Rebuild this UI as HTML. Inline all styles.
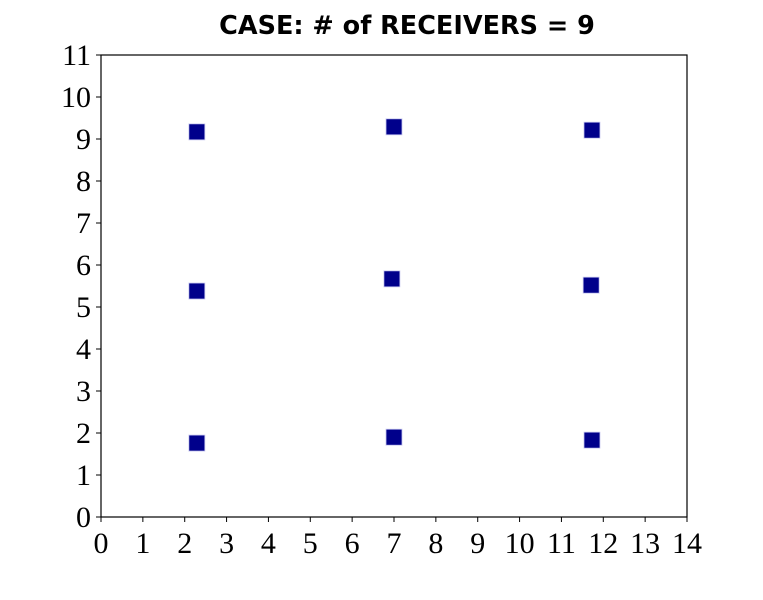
<!DOCTYPE html>
<html><head><meta charset="utf-8"><style>body{margin:0;background:#fff}svg{display:block}</style></head><body>
<svg id="chart" width="763" height="600" xmlns="http://www.w3.org/2000/svg">
<text x="407" y="34" text-anchor="middle" font-family="DejaVu Sans, Liberation Sans, sans-serif" font-weight="bold" font-size="25.5">CASE: # of RECEIVERS = 9</text>
<g id="ax"></g>
</svg>
<script>
const xVals=[2.29,7.0,11.73,2.29,6.95,11.71,2.29,7.0,11.73];
const yVals=[9.17,9.29,9.21,5.38,5.67,5.52,1.76,1.90,1.83];
const xTicks=[0,1,2,3,4,5,6,7,8,9,10,11,12,13,14];
const yTicks=[0,1,2,3,4,5,6,7,8,9,10,11];
const L=101,R=687,T=55,B=517,xMax=14,yMax=11;
const sx=v=>L+(R-L)*v/xMax, sy=v=>B-(B-T)*v/yMax;
const ns="http://www.w3.org/2000/svg",g=document.getElementById('ax');
function mk(t,a){const e=document.createElementNS(ns,t);for(const k in a)e.setAttribute(k,a[k]);g.appendChild(e);return e;}
xTicks.forEach(t=>{
 const l=mk('line',{x1:sx(t),x2:sx(t),y1:B,y2:B+5,stroke:'#000','stroke-width':1});
 
 
 const s=mk('text',{x:sx(t),y:B+36,'text-anchor':'middle','font-family':'Liberation Serif, serif','font-size':30});
 s.textContent=t;
 
 
});
yTicks.forEach(t=>{
 const l=mk('line',{x1:L-5,x2:L,y1:sy(t),y2:sy(t),stroke:'#000','stroke-width':1});
 
 
 const s=mk('text',{x:L-10,y:sy(t)+10,'text-anchor':'end','font-family':'Liberation Serif, serif','font-size':30});
 s.textContent=t;
 
 
});
const f=mk('rect',{x:L,y:T,width:R-L,height:B-T,fill:'none',stroke:'#000','stroke-width':1.2});


xVals.forEach((x,i)=>{
 const p=mk('rect',{x:sx(x)-8,y:sy(yVals[i])-8,width:16,height:16,fill:'#00008b',stroke:'#c8c8f0','stroke-width':0.8});
 
 
});
</script>
</body></html>
